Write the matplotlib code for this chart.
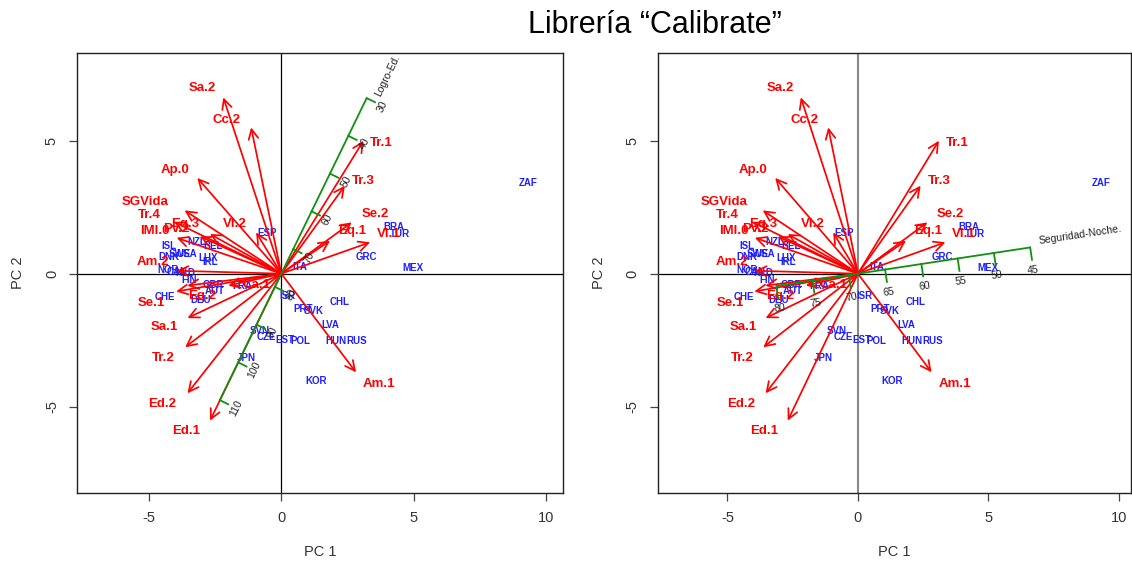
import matplotlib
matplotlib.use('Agg')
import matplotlib.pyplot as plt
import numpy as np

plt.rcParams['font.family'] = ['Liberation Sans', 'DejaVu Sans']
plt.rcParams['axes.unicode_minus'] = False

# ---------------- data ----------------
var_names = ['Sa.2', 'Cc.2', 'Ap.0', 'SGVida', 'Tr.4', 'IMl.0', 'Pv.2', 'Eq.3', 'Vl.2',
             'Am.2', 'Se.1', 'Eq.2', 'Ca.1', 'Sa.1', 'Tr.2', 'Ed.2', 'Ed.1',
             'Tr.1', 'Tr.3', 'Se.2', 'Eq.1', 'Vl.1', 'Am.1']
var_x = [-2.19, -1.14, -3.17, -3.65, -4.05, -3.95, -3.07, -2.69, -0.95,
         -3.95, -3.97, -3.55, -2.00, -3.54, -3.63, -3.54, -2.69,
         3.10, 2.40, 2.66, 1.84, 3.35, 2.82]
var_y = [6.63, 5.50, 3.60, 2.38, 1.95, 1.35, 1.40, 1.49, 1.55,
         0.11, -0.67, -0.45, -0.45, -1.67, -2.77, -4.50, -5.53,
         5.00, 3.31, 1.93, 1.24, 1.18, -3.71]
lab_x = [-2.99, -2.06, -4.01, -5.14, -4.99, -4.77, -3.95, -3.63, -1.75,
         -4.83, -4.89, -3.00, -0.95, -4.41, -4.45, -4.49, -3.60,
         3.79, 3.10, 3.54, 2.69, 4.04, 3.70]
lab_y = [7.00, 5.78, 3.90, 2.68, 2.22, 1.62, 1.67, 1.88, 1.87,
         0.45, -1.12, -0.83, -0.42, -2.02, -3.18, -4.92, -5.93,
         4.90, 3.50, 2.24, 1.59, 1.49, -4.15]

countries = ['ZAF', 'ESP', 'BRA', 'TUR', 'GRC', 'MEX', 'ITA', 'ISR', 'PRT', 'SVK',
             'CHL', 'LVA', 'HUN', 'RUS', 'POL', 'EST', 'CZE', 'SVN', 'JPN', 'KOR',
             'GBR', 'AUT', 'FRA', 'DEU', 'CHE', 'FIN', 'NOR', 'CAN', 'NLD', 'DNK',
             'SWE', 'USA', 'ISL', 'LUX', 'IRL', 'NZL', 'BEL']
country_x = [9.31, -0.54, 4.23, 4.48, 3.22, 4.98, 0.71, 0.23, 0.83, 1.21,
             2.19, 1.84, 2.08, 2.85, 0.71, 0.14, -0.55, -0.80, -1.31, 1.31,
             -2.57, -2.50, -1.49, -3.03, -4.39, -3.47, -4.26, -3.95, -3.63, -4.25,
             -3.82, -3.57, -4.25, -2.75, -2.69, -3.19, -2.56]
country_y = [3.42, 1.54, 1.74, 1.49, 0.61, 0.21, 0.26, -0.83, -1.33, -1.39,
             -1.08, -1.92, -2.52, -2.52, -2.54, -2.49, -2.37, -2.17, -3.17, -4.05,
             -0.41, -0.64, -0.48, -0.99, -0.89, -0.23, 0.15, 0.05, 0.01, 0.61,
             0.74, 0.74, 1.05, 0.58, 0.42, 1.20, 1.05]

# calibrated axis: Logro-Ed. (left panel)
logro_ticks = [30, 40, 50, 60, 70, 80, 90, 100, 110]
logro_angle = 64.0
logro_center = 76.5
logro_step = 0.158

# calibrated axis: Seguridad-Noche. (right panel)
seg_ticks = [45, 50, 55, 60, 65, 70, 75, 80]
seg_angle = 8.5
seg_center = 68.74
seg_step = 0.281

title = 'Librería “Calibrate”'

# ---------------- styles ----------------
RED = '#ff0000'
BLUE = '#1f1fff'
GREEN = '#119011'
TXT = '#333333'

fig = plt.figure(figsize=(11.32, 5.69), dpi=100)
W, H = 1132, 569


def make_axes(left_px, right_px, xlim, vcolor, vlw):
    ax = fig.add_axes([left_px / W, 1 - 493 / H, (right_px - left_px) / W, (493 - 53) / H])
    ax.set_xlim(*xlim)
    ax.set_ylim(-8.25, 8.3)
    ax.axhline(0, color='black', lw=0.9, zorder=1)
    ax.axvline(0, color=vcolor, lw=vlw, zorder=1)
    for sp in ax.spines.values():
        sp.set_linewidth(1.0)
        sp.set_color('#222222')
    ax.set_xticks([-5, 0, 5, 10])
    ax.set_yticks([-5, 0, 5])
    ax.tick_params(direction='out', length=6, width=0.9, labelsize=10.5, pad=7,
                   colors='#444444', labelcolor=TXT)
    plt.setp(ax.get_yticklabels(), rotation=90, va='center')
    ax.set_xlabel('PC 1', fontsize=10.5, labelpad=14, color=TXT)
    ax.set_ylabel('PC 2', fontsize=10.5, labelpad=14, color=TXT)
    return ax


def biplot(ax):
    for n, x, y in zip(countries, country_x, country_y):
        ax.text(x, y, n, color=BLUE, fontsize=7, fontweight='bold',
                ha='center', va='center', zorder=3)
    for x, y in zip(var_x, var_y):
        ax.annotate('', xy=(x, y), xytext=(0, 0),
                    arrowprops=dict(arrowstyle='->,head_length=0.7,head_width=0.35',
                                    color=RED, lw=1.25, shrinkA=0, shrinkB=0),
                    zorder=4)
    for n, x, y in zip(var_names, lab_x, lab_y):
        ax.text(x, y, n, color=RED, fontsize=9.5, fontweight='bold',
                ha='center', va='center', zorder=5)


def calib_axis(ax, ticks, angle, center, step, tick_len, lab_off, name,
               name_along, name_perp):
    a = np.deg2rad(angle)
    d = np.array([np.cos(a), np.sin(a)])
    p = np.array([np.sin(a), -np.cos(a)])
    t = np.array(ticks, dtype=float)
    s = (center - t) * step
    pts = s[:, None] * d[None, :]
    ax.plot(pts[[0, -1], 0], pts[[0, -1], 1], color=GREEN, lw=1.3, zorder=6,
            solid_capstyle='butt')
    for pt, v in zip(pts, ticks):
        e = pt + p * tick_len
        ax.plot([pt[0], e[0]], [pt[1], e[1]], color=GREEN, lw=1.3, zorder=6)
        lp = pt + p * lab_off
        ax.text(lp[0], lp[1], str(v), rotation=angle, rotation_mode='anchor',
                ha='center', va='center', fontsize=7.5, color='#222222', zorder=7)
    top = pts[np.argmax(s)]
    np_ = top + d * name_along + p * name_perp
    ax.text(np_[0], np_[1], name, rotation=angle, rotation_mode='anchor',
            ha='left', va='center', fontsize=7.5, color='#222222', zorder=7)


ax1 = make_axes(77, 563, (-7.71, 10.63), 'black', 0.9)
biplot(ax1)
calib_axis(ax1, logro_ticks, logro_angle, logro_center, logro_step,
           tick_len=0.35, lab_off=0.68, name='Logro-Ed.', name_along=0.25, name_perp=0.32)

ax2 = make_axes(657.5, 1131, (-7.68, 10.46), '#888888', 1.5)
biplot(ax2)
calib_axis(ax2, seg_ticks, seg_angle, seg_center, seg_step,
           tick_len=0.47, lab_off=0.85, name='Seguridad-Noche.', name_along=0.35, name_perp=-0.2)

fig.text(655 / W, 1 - 25 / H, title, fontsize=22, ha='center', va='center', color='black')

fig.savefig('out.png', dpi=100)
